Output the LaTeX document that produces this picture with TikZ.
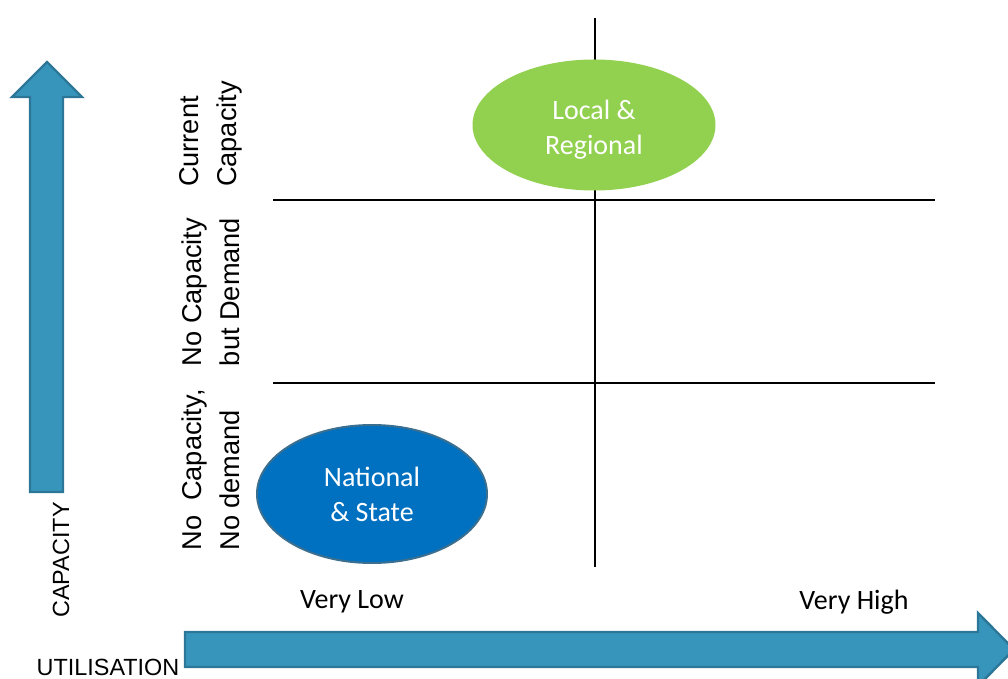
\documentclass[tikz,border=0pt]{standalone}
\usepackage{fontspec}
\setmainfont{Carlito}
\newfontfamily\arialfont{Liberation Sans}
\usepackage{calc}
\usetikzlibrary{shapes.geometric,positioning}
\definecolor{arrowblue}{HTML}{3795BC}
\definecolor{arrowedge}{HTML}{2C7697}
\definecolor{localgreen}{HTML}{92D050}
\definecolor{nationalblue}{HTML}{0070C0}
\definecolor{nationaledge}{HTML}{3A6F90}
\tikzset{
  bigarrow/.style={fill=arrowblue, draw=arrowedge, line width=1.2pt, line join=miter},
  gridline/.style={line width=1pt},
  blob/.style={ellipse, inner sep=0pt, text=white, align=center, font=\fontsize{14}{17.5}\selectfont},
  rowlabel/.style={rotate=90, align=left, font=\arialfont\fontsize{13.6}{19}\selectfont},
  axislabel/.style={font=\fontsize{14}{17}\selectfont},
  axisname/.style={font=\arialfont\fontsize{11.7}{14}\selectfont}
}
\begin{document}
\begin{tikzpicture}[x=0.5pt, y=-0.5pt]
            \useasboundingbox (0,0) rectangle (1008,679);
            \clip (0,0) rectangle (1008,679);
            % arrows
            \draw[bigarrow] (30,492) -- (30,97) -- (12,97) -- (47,62) -- (82,97) -- (63,97) -- (63,492) -- cycle;
            \draw[bigarrow] (185,632) -- (978,632) -- (978,613) -- (1014,649.5) -- (978,686) -- (978,667) -- (185,667) -- cycle;
            % grid
            \coordinate (top) at (595,18);
            \coordinate (bottom) at (595,567);
            \coordinate (upleft) at (273,200);
            \coordinate (upright) at (935,200);
            \coordinate (lowleft) at (273,383);
            \coordinate (lowright) at (935,383);
            \draw[gridline] (top) -- (bottom);
            \draw[gridline] (upleft) -- (upright);
            \draw[gridline] (lowleft) -- (lowright);
            % groups
            \node[blob, fill=localgreen, minimum width=121.5pt, minimum height=65.5pt, text height=32pt] (local) at (594,125) {Local \&\\Regional};
            \node[blob, fill=nationalblue, draw=nationaledge, line width=1pt, minimum width=115pt, minimum height=69pt] (national) at (372,494) {National\\\& State};
            % rows
            \node[rowlabel] (current) at (211,134) {Current\\Capacity};
            \node[rowlabel] (demand) at (211,292) {\makebox[\widthof{but Demand}][s]{No Capacity}\\but Demand};
            \node[rowlabel] (nodemand) at (211,470) {No\ \ Capacity,\\No demand};
            % axes
            \node[axislabel] (low) at (352,602) {Very Low};
            \node[axislabel] (high) at (854,602) {Very High};
            \node[axisname, rotate=90] (capacity) at (61,560) {CAPACITY};
            \node[axisname] (utilisation) at (108,667) {UTILISATION};
        \end{tikzpicture}
\end{document}
